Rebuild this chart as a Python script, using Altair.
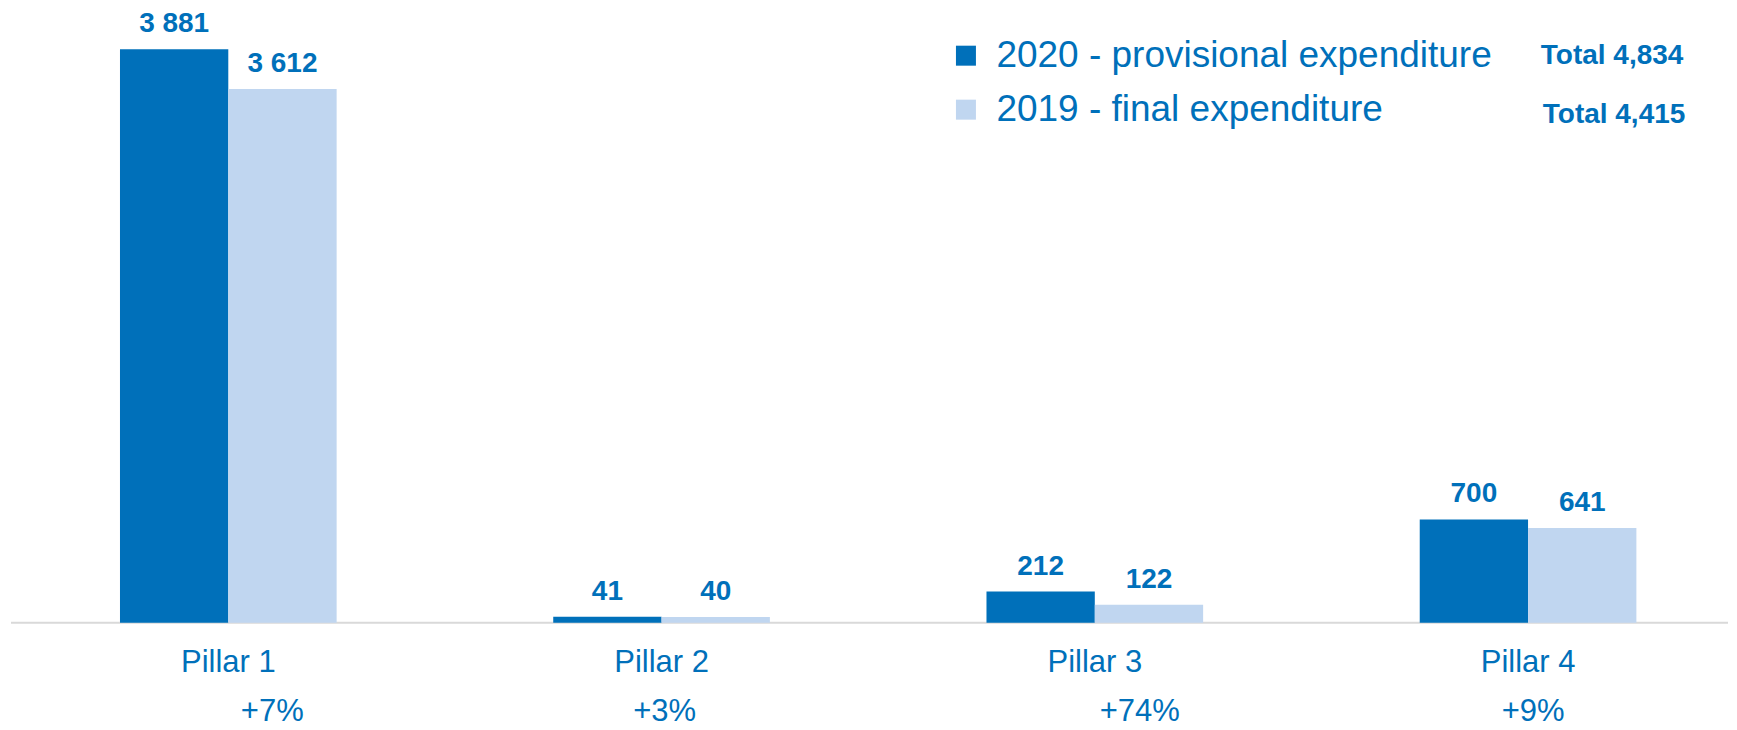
import altair as alt
import pandas as pd

# ---- data ----
pillars = ["Pillar 1", "Pillar 2", "Pillar 3", "Pillar 4"]
series = ["2020 - provisional expenditure", "2019 - final expenditure"]
values_2020 = [3881, 41, 212, 700]
values_2019 = [3612, 40, 122, 641]
changes = ["+7%", "+3%", "+74%", "+9%"]
totals = ["Total 4,834", "Total 4,415"]

# ---- style ----
DARK = "#0070BA"
LIGHT = "#C0D6F0"
TXT = "#0070BA"
FONT = "Liberation Sans"
pct_dx = [44, 3, 45, 5]
series_shift = [-54.2, 54.2]
W, H, YMAX = 1721, 615, 4158

rows = []
for p, a, b, c in zip(pillars, values_2020, values_2019, changes):
    rows.append({"pillar": p, "series": series[0], "value": a,
                 "label": f"{a:,}".replace(",", " "), "change": c})
    rows.append({"pillar": p, "series": series[1], "value": b,
                 "label": f"{b:,}".replace(",", " "), "change": c})
df = pd.DataFrame(rows)

x = alt.X("pillar:N", sort=pillars, title=None,
          scale=alt.Scale(domain=pillars, paddingInner=0.5,
                          paddingOuter=0.235, align=0.55),
          axis=alt.Axis(domain=False, ticks=False, tickSize=0, grid=False,
                        labelAngle=0, labelFont=FONT, labelFontSize=31,
                        labelColor=TXT, labelBaseline="alphabetic",
                        labelPadding=49))
y = alt.Y("value:Q", scale=alt.Scale(domain=[0, YMAX], nice=False), axis=None)
color = alt.Color("series:N", sort=series,
                  scale=alt.Scale(domain=series, range=[DARK, LIGHT]),
                  legend=alt.Legend(title=None, orient="none", legendX=940,
                                    legendY=29, symbolType="square",
                                    symbolSize=400, symbolStrokeWidth=0,
                                    labelFont=FONT, labelFontSize=37,
                                    labelColor=TXT, labelOffset=12,
                                    labelLimit=0,
                                    rowPadding=16, padding=0,
                                    direction="vertical"))

base = alt.Chart(df)

rule = alt.Chart(pd.DataFrame({"value": [0]})).mark_rule(
    color="#D9D9D9", strokeWidth=2).encode(
    y=y, x=alt.value(3), x2=alt.value(W))

layers = [rule]
for s, sh in zip(series, series_shift):
    sub = base.transform_filter(alt.datum.series == s)
    layers.append(sub.mark_bar(width=alt.RelativeBandSize(0.5), xOffset=sh)
                  .encode(x=x, y=y, color=color))
    layers.append(sub.mark_text(dx=sh, dy=-17, baseline="alphabetic",
                                fontWeight="bold", fontSize=28, font=FONT,
                                color=TXT)
                  .encode(x=x, y=y, text="label:N"))

for p, d in zip(pillars, pct_dx):
    layers.append(
        base.transform_filter((alt.datum.pillar == p) & (alt.datum.series == series[0]))
        .mark_text(dx=d, font=FONT, fontSize=31, baseline="alphabetic", color=TXT)
        .encode(x=x, y=alt.value(H + 98), text="change:N")
    )

tot_df = pd.DataFrame({"txt": totals, "row": [0, 1]})
for i, (xv, yv) in enumerate([(1605, 56), (1607, 115)]):
    layers.append(
        alt.Chart(tot_df).transform_filter(alt.datum.row == i)
        .mark_text(font=FONT, fontSize=28, fontWeight="bold", color=TXT,
                   baseline="alphabetic", align="center")
        .encode(x=alt.value(xv), y=alt.value(yv), text="txt:N")
    )

chart = alt.layer(*layers).properties(
    width=W, height=H,
    padding={"left": 0, "top": 0, "right": 0, "bottom": 0},
).configure_view(stroke=None)

chart.save("out.html", embed_options={"renderer": "svg", "actions": False})
